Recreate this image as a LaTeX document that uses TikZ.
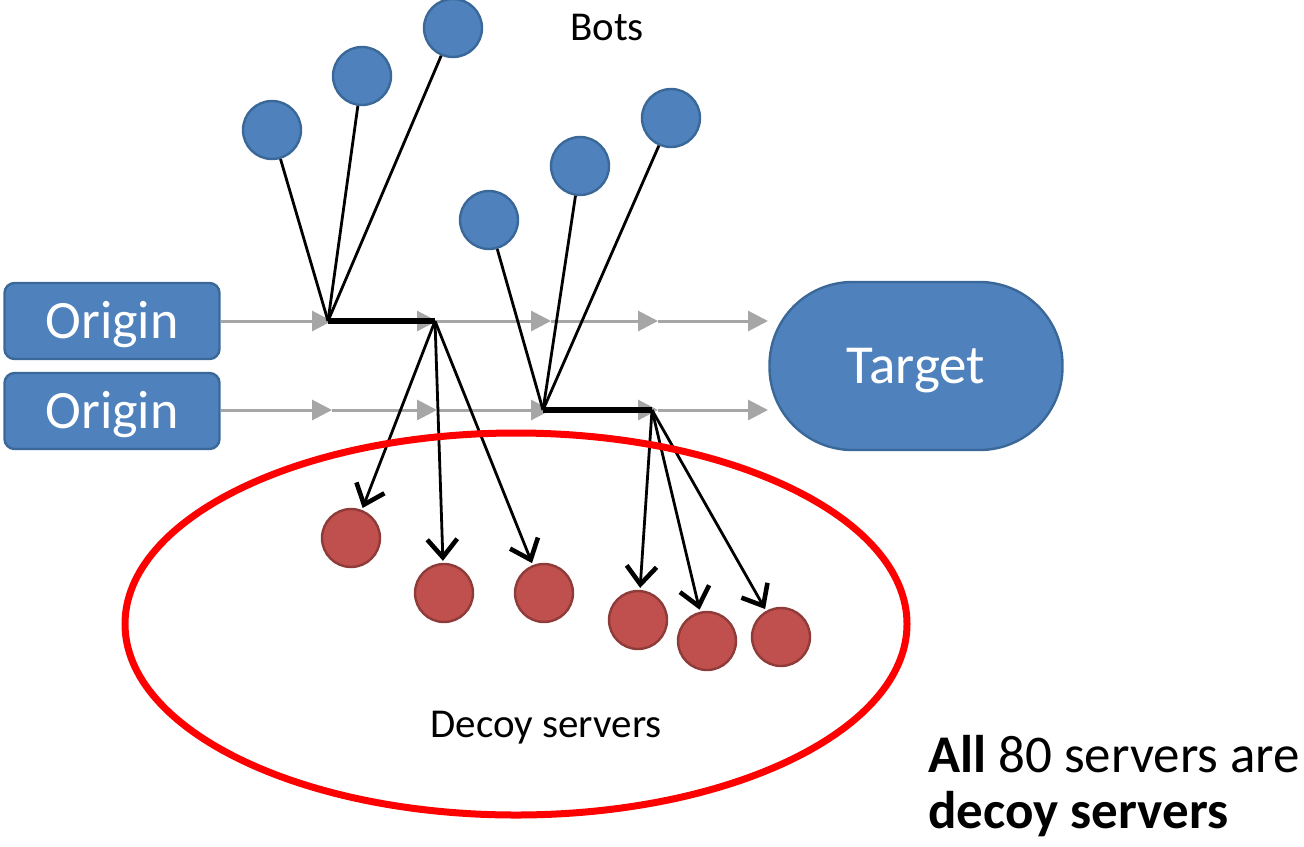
\documentclass[tikz,border=0pt]{standalone}
\usepackage{fontspec}
\setmainfont{Carlito}
\usetikzlibrary{arrows.meta}

\definecolor{botblue}{HTML}{4F81BD}
\definecolor{botedge}{HTML}{3A6898}
\definecolor{decoyred}{HTML}{C0504D}
\definecolor{decoyedge}{HTML}{8E3B39}
\definecolor{flowgray}{HTML}{A6A6A6}

\begin{document}
\begin{tikzpicture}[x=0.5pt,y=-0.5pt,
  bot/.style={circle, fill=botblue, draw=botedge, line width=1.2pt,
    minimum size=29pt, inner sep=0pt},
  decoy/.style={circle, fill=decoyred, draw=decoyedge, line width=1.2pt,
    minimum size=29pt, inner sep=0pt},
  origin/.style={rectangle, rounded corners=5pt, fill=botblue, draw=botedge,
    line width=1.2pt, minimum width=107.5pt, minimum height=38pt,
    inner sep=0pt, text=white, text height=17pt, text depth=0pt,
    font=\fontsize{27}{31}\selectfont},
  target/.style={rectangle, rounded corners=41.5pt, fill=botblue, draw=botedge,
    line width=1.2pt, minimum width=146.5pt, minimum height=84pt,
    inner sep=0pt, text=white, text height=17pt, text depth=0pt,
    font=\fontsize{27.5}{31}\selectfont},
  caption/.style={inner sep=0pt, font=\fontsize{20.5}{24}\selectfont},
  note/.style={inner sep=0pt, anchor=base west, font=\fontsize{26.5}{31}\selectfont},
  flow/.style={draw=flowgray, line width=1.5pt,
    -{Triangle[length=10pt,width=10pt]}},
  feed/.style={draw=black, line width=1.4pt},
  trunk/.style={draw=black, line width=3pt},
  hit/.style={draw=black, line width=1.4pt, shorten >=1pt,
    -{Straight Barb[length=9pt,width=15pt,line width=2.3pt]}}
]
\useasboundingbox (0,0) rectangle (1304,846);

% sources and victim
\node[origin] (orig1) at (112,321) {Origin};
\node[origin] (orig2) at (112,411) {Origin};
\node[target] (target) at (916,366) {Target};

% normal traffic paths
\foreach \r/\y in {1/321,2/410}{
  \coordinate (r\r a) at (332,\y);
  \coordinate (r\r b) at (437,\y);
  \coordinate (r\r c) at (551,\y);
  \coordinate (r\r d) at (658,\y);
  \coordinate (r\r e) at (768,\y);
}
\draw[flow] (orig1.east |- r1a) -- (r1a);
\draw[flow] (r1a) -- (r1b);
\draw[flow] (r1b) -- (r1c);
\draw[flow] (r1c) -- (r1d);
\draw[flow] (r1d) -- (r1e);
\draw[flow] (orig2.east |- r2a) -- (r2a);
\draw[flow] (r2a) -- (r2b);
\draw[flow] (r2b) -- (r2c);
\draw[flow] (r2c) -- (r2d);
\draw[flow] (r2d) -- (r2e);

% bots
\node[bot] (bot1) at (272,130) {};
\node[bot] (bot2) at (362,76) {};
\node[bot] (bot3) at (453,28) {};
\node[bot] (bot4) at (489,220) {};
\node[bot] (bot5) at (580,166) {};
\node[bot] (bot6) at (671,118) {};
\node[caption, anchor=base] (botlabel) at (607,40) {Bots};

% attack hubs
\coordinate (hub1) at (328,321);
\coordinate (fan1) at (435,321);
\coordinate (hub2) at (543,410);
\coordinate (fan2) at (652,410);

\draw[feed] (bot1) -- (hub1);
\draw[feed] (bot2) -- (hub1);
\draw[feed] (bot3) -- (hub1);
\draw[feed] (bot4) -- (hub2);
\draw[feed] (bot5) -- (hub2);
\draw[feed] (bot6) -- (hub2);
\draw[trunk] (hub1) -- (fan1);
\draw[trunk] (hub2) -- (fan2);

% decoy servers
\node[decoy] (dec1) at (351,538) {};
\node[decoy] (dec2) at (444,593) {};
\node[decoy] (dec3) at (544,593) {};
\node[decoy] (dec4) at (638,620) {};
\node[decoy] (dec5) at (707,641) {};
\node[decoy] (dec6) at (781,637) {};

\draw[hit] (fan1) -- (dec1);
\draw[hit] (fan1) -- (dec2);
\draw[hit] (fan1) -- (dec3);
\draw[hit] (fan2) -- (dec4);
\draw[hit] (fan2) -- (dec5);
\draw[hit] (fan2) -- (dec6);

\draw[red, line width=3.5pt] (516,624) ellipse [x radius=391, y radius=191];
\node[caption, anchor=base] (decoylabel) at (546,737) {Decoy servers};

% remark
\node[note] (note1) at (928,772) {\textbf{All} 80 servers are};
\node[note] (note2) at (928,828) {\textbf{decoy servers}};
\end{tikzpicture}
\end{document}
